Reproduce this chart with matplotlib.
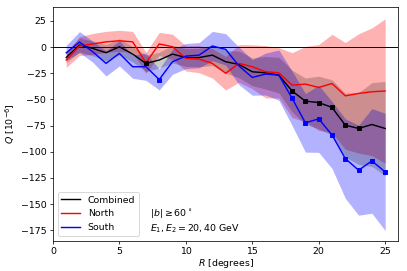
import numpy as np
import matplotlib
matplotlib.use("Agg")
import matplotlib.pyplot as plt

R = np.arange(1, 26)

# combined / north / south Q values [1e-6]
q_comb = [-10, 2, -1.3, -5.4, 0.3, -6.7, -15.6, -12.4, -6.7, -10, -10, -7.7, -14,
          -16.6, -23.6, -24.6, -26.8, -42, -51.7, -53, -57.7, -74.6, -77.8, -74, -77.8]
q_north = [-12.4, 1, 3, 5, 6, 5, -15, 3, 0.3, -10.8, -11.5, -15.6, -25,
           -15.6, -18.8, -23.6, -24.6, -36.4, -35.4, -38.6, -34.8, -46.6, -44.3, -42.7, -42]
q_south = [-5.5, 4.8, -4.5, -15.6, -6, -18.8, -18.8, -31, -14, -8.6, -7.7, 1, -2.2,
           -18, -29, -25.8, -26.8, -49, -72.4, -68.6, -84, -106.5, -117.7, -108.8, -119.3]

# 1 sigma errors
err_comb = [4.9, 6.7, 7.1, 7.7, 7.7, 7.4, 7.9, 7.4, 8.5, 8.5, 8.8, 9.9, 10.9,
            12.7, 13.2, 15.6, 17, 19.9, 22.1, 25.2, 26.4, 30.5, 34.3, 40, 45]
err_north = [7, 9, 10, 10, 10, 10, 10, 11, 12, 12, 13, 14, 16,
             18, 21, 25, 24, 31, 36, 41, 47, 51, 57, 61, 69]
err_south = [7, 10, 10, 12, 12, 11, 13, 10, 12, 12, 12, 14, 15,
             18, 17, 20, 24, 26, 28, 32, 32, 38, 43, 50, 56]

# points drawn with markers (indices)
mark_comb = [6, 17, 18, 19, 20, 21, 22]
mark_south = [7, 17, 18, 19, 20, 21, 22, 23, 24]

dpi = 67.8
fig, ax = plt.subplots(figsize=(407 / dpi, 271 / dpi), dpi=dpi)
fig.subplots_adjust(left=0.13, right=0.979, top=0.973, bottom=0.112)

qc, qn, qs = np.array(q_comb), np.array(q_north), np.array(q_south)
ec, en, es = np.array(err_comb), np.array(err_north), np.array(err_south)

ax.fill_between(R, qn - en, qn + en, color='red', alpha=0.3, lw=0)
ax.fill_between(R, qs - es, qs + es, color='blue', alpha=0.3, lw=0)
ax.fill_between(R, qc - ec, qc + ec, color='black', alpha=0.2, lw=0)

ax.axhline(0, color='k', lw=1)

ax.plot(R, qc, color='k', label='Combined')
ax.plot(R, qn, color='red', label='North')
ax.plot(R, qs, color='blue', label='South')
ax.plot(R[mark_comb], qc[mark_comb], 's', color='k', ms=5)
ax.plot(R[mark_south], qs[mark_south], 's', color='blue', ms=5)

ax.text(7.3, -180, '$|b|\\geq 60^\\circ$\n$E_1, E_2 = 20, 40$ GeV', va='bottom', ha='left')

ax.set_xlim(0, 26)
ax.set_ylim(-185, 38)
ax.set_xlabel('$R$ [degrees]', labelpad=1)
ax.set_ylabel('$Q$ [$10^{-6}$]')
ax.legend(loc='lower left')

fig.savefig('out.png', dpi=dpi)
